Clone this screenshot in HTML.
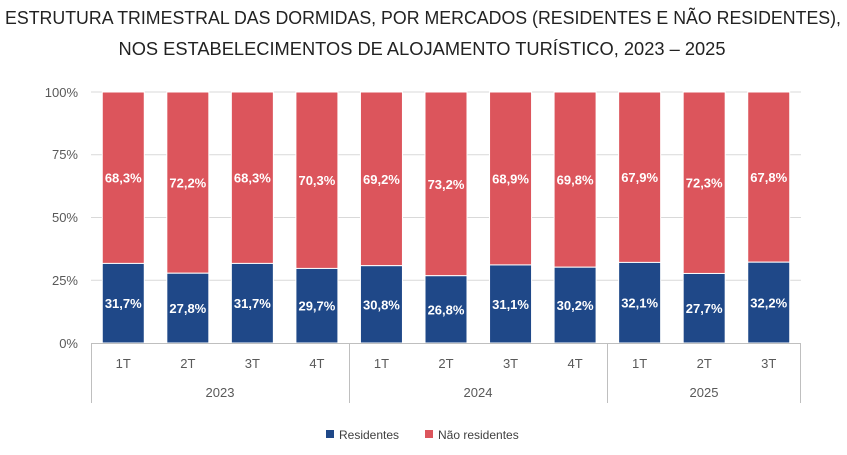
<!DOCTYPE html>
<html><head><meta charset="utf-8"><style>
body{margin:0;background:#fff;width:847px;height:450px;overflow:hidden}
</style></head><body>
<svg width="847" height="450" xmlns="http://www.w3.org/2000/svg" font-family="Liberation Sans, sans-serif">
<text x="423" y="24" text-anchor="middle" font-size="18" fill="#222" textLength="836" lengthAdjust="spacingAndGlyphs">ESTRUTURA TRIMESTRAL DAS DORMIDAS, POR MERCADOS (RESIDENTES E NÃO RESIDENTES),</text>
<text x="422" y="55" text-anchor="middle" font-size="18" fill="#222" textLength="607" lengthAdjust="spacingAndGlyphs">NOS ESTABELECIMENTOS DE ALOJAMENTO TURÍSTICO, 2023 – 2025</text>
<g stroke="#d9d9d9" stroke-width="1">
<line x1="91" y1="92" x2="801" y2="92"/><line x1="91" y1="154.75" x2="801" y2="154.75"/>
<line x1="91" y1="217.5" x2="801" y2="217.5"/><line x1="91" y1="280.25" x2="801" y2="280.25"/>
</g>
<g font-size="13" fill="#595959" text-anchor="end">
<text x="78" y="97">100%</text><text x="78" y="159">75%</text><text x="78" y="222">50%</text><text x="78" y="285">25%</text><text x="78" y="348">0%</text>
</g>
<g stroke="#fff" stroke-width="1">
<rect x="102.27" y="92" width="42" height="171.43" fill="#dc555c"/><rect x="102.27" y="263.43" width="42" height="79.57" fill="#1f4888"/>
<rect x="166.82" y="92" width="42" height="181.22" fill="#dc555c"/><rect x="166.82" y="273.22" width="42" height="69.78" fill="#1f4888"/>
<rect x="231.36" y="92" width="42" height="171.43" fill="#dc555c"/><rect x="231.36" y="263.43" width="42" height="79.57" fill="#1f4888"/>
<rect x="295.91" y="92" width="42" height="176.45" fill="#dc555c"/><rect x="295.91" y="268.45" width="42" height="74.55" fill="#1f4888"/>
<rect x="360.45" y="92" width="42" height="173.69" fill="#dc555c"/><rect x="360.45" y="265.69" width="42" height="77.31" fill="#1f4888"/>
<rect x="425" y="92" width="42" height="183.73" fill="#dc555c"/><rect x="425" y="275.73" width="42" height="67.27" fill="#1f4888"/>
<rect x="489.55" y="92" width="42" height="172.94" fill="#dc555c"/><rect x="489.55" y="264.94" width="42" height="78.06" fill="#1f4888"/>
<rect x="554.09" y="92" width="42" height="175.2" fill="#dc555c"/><rect x="554.09" y="267.2" width="42" height="75.8" fill="#1f4888"/>
<rect x="618.64" y="92" width="42" height="170.43" fill="#dc555c"/><rect x="618.64" y="262.43" width="42" height="80.57" fill="#1f4888"/>
<rect x="683.18" y="92" width="42" height="181.47" fill="#dc555c"/><rect x="683.18" y="273.47" width="42" height="69.53" fill="#1f4888"/>
<rect x="747.73" y="92" width="42" height="170.18" fill="#dc555c"/><rect x="747.73" y="262.18" width="42" height="80.82" fill="#1f4888"/>
</g>
<g font-size="13" font-weight="bold" fill="#fff" text-anchor="middle">
<text x="123.27" y="182.7">68,3%</text><text x="123.27" y="308.2">31,7%</text>
<text x="187.82" y="187.6">72,2%</text><text x="187.82" y="313.1">27,8%</text>
<text x="252.36" y="182.7">68,3%</text><text x="252.36" y="308.2">31,7%</text>
<text x="316.91" y="185.2">70,3%</text><text x="316.91" y="310.7">29,7%</text>
<text x="381.45" y="183.8">69,2%</text><text x="381.45" y="309.3">30,8%</text>
<text x="446" y="188.9">73,2%</text><text x="446" y="314.4">26,8%</text>
<text x="510.55" y="183.5">68,9%</text><text x="510.55" y="309">31,1%</text>
<text x="575.09" y="184.6">69,8%</text><text x="575.09" y="310.1">30,2%</text>
<text x="639.64" y="182.2">67,9%</text><text x="639.64" y="307.7">32,1%</text>
<text x="704.18" y="187.7">72,3%</text><text x="704.18" y="313.2">27,7%</text>
<text x="768.73" y="182.1">67,8%</text><text x="768.73" y="307.6">32,2%</text>
</g>
<g font-size="13" fill="#595959" text-anchor="middle">
<text x="123.27" y="368">1T</text><text x="187.82" y="368">2T</text><text x="252.36" y="368">3T</text><text x="316.91" y="368">4T</text>
<text x="381.45" y="368">1T</text><text x="446" y="368">2T</text><text x="510.55" y="368">3T</text><text x="575.09" y="368">4T</text>
<text x="639.64" y="368">1T</text><text x="704.18" y="368">2T</text><text x="768.73" y="368">3T</text>
</g>
<g stroke="#bfbfbf" stroke-width="1">
<line x1="91" y1="343.5" x2="801" y2="343.5"/>
<line x1="91.5" y1="343" x2="91.5" y2="403"/><line x1="349.5" y1="343" x2="349.5" y2="403"/>
<line x1="607.5" y1="343" x2="607.5" y2="403"/><line x1="800.5" y1="343" x2="800.5" y2="403"/>
</g>
<g font-size="13" fill="#595959" text-anchor="middle">
<text x="220" y="397">2023</text><text x="478" y="397">2024</text><text x="704" y="397">2025</text>
</g>
<rect x="326" y="430" width="8" height="8" fill="#1f4888"/>
<text x="339" y="439" font-size="12" fill="#404040">Residentes</text>
<rect x="425" y="430" width="8" height="8" fill="#dc555c"/>
<text x="438" y="439" font-size="12" fill="#404040">Não residentes</text>
</svg>
</body></html>
